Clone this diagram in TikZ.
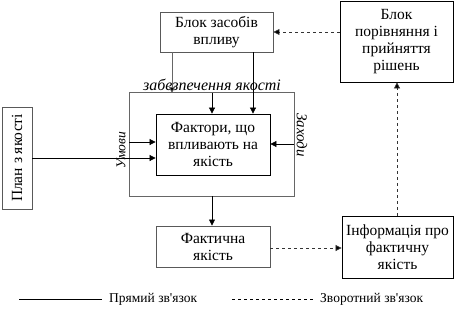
\documentclass[tikz,border=0pt]{standalone}
\usepackage{fontspec}
\setmainfont{Liberation Serif}
\newfontfamily\myserif{Liberation Serif}
\usetikzlibrary{arrows.meta}
\begin{document}
\begin{tikzpicture}[x=1pt,y=-1pt,font=\myserif,
  box/.style={draw=black!65,line width=0.9pt,align=center,inner sep=0pt,font=\myserif\fontsize{15.5}{17}\selectfont},
  bbox/.style={draw=black,line width=0.8pt,align=center,inner sep=0pt,font=\myserif\fontsize{15.5}{17}\selectfont},
  arr/.style={draw=black,line width=0.7pt,-{Triangle[length=6pt,width=6pt]}},
  garr/.style={draw=black!60,line width=0.8pt,-{Triangle[length=6pt,width=6pt,fill=black]}},
  darr/.style={draw=black!80,line width=0.7pt,dash pattern=on 3pt off 3pt,-{Triangle[length=6pt,width=6pt,fill=black]}},
  lbl/.style={font=\myserif\fontsize{16}{18}\selectfont\itshape,inner sep=0pt},
  lgd/.style={anchor=west,font=\myserif\fontsize{13.5}{15}\selectfont,inner sep=0pt}]
\useasboundingbox (0,0) rectangle (457,310);
% boxes
\node[box,minimum width=113pt,minimum height=40pt] (zasoby) at (216.5,32) {Блок засобів\\впливу};
\node[bbox,minimum width=113pt,minimum height=81pt] (porivn) at (396.5,41.5) {Блок\\порівняння і\\прийняття\\рішень};
\node[draw=black!60,line width=1pt,minimum width=165pt,minimum height=103pt,inner sep=0pt] (outer) at (211.5,144.5) {};
\node[bbox,minimum width=114pt,minimum height=61pt] (faktory) at (213,144.5) {Фактори, що\\впливають на\\якість};
\node[box,minimum width=30pt,minimum height=102pt] (plan) at (17,158) {};
\node[rotate=90,font=\myserif\fontsize{15.5}{17}\selectfont,inner sep=0pt] (plantxt) at (plan.center) {План з якості};
\node[box,minimum width=114pt,minimum height=41pt] (fakt) at (213,246.5) {Фактична\\якість};
\node[bbox,minimum width=111pt,minimum height=62pt] (info) at (397.5,247) {Інформація про\\фактичну\\якість};
% labels
\node[lbl] (zabezp) at (212,85) {забезпечення якості};
\node[lbl,rotate=90,font=\myserif\fontsize{13.5}{15}\selectfont\itshape] (umovy) at (121,150) {Умови};
\node[lbl,rotate=-90,font=\myserif\fontsize{15}{17}\selectfont\itshape] (zakhody) at (302,135) {Заходи};
% coordinates
\coordinate (z1) at (zasoby.south -| 172,0);
\coordinate (z1e) at (172,93);
\coordinate (z2) at (zasoby.south -| 253,0);
\coordinate (o1) at (212,93);
\coordinate (ol1) at (129,142);
\coordinate (or1) at (294,144);
\coordinate (ob) at (212,196);
% solid arrows
\draw[garr] (z1) -- (z1e);
\draw[arr] (z2) -- (faktory.north -| z2);
\draw[arr] (o1) -- (faktory.north -| o1);
\draw[arr] (ol1) -- (faktory.west |- ol1);
\draw[arr] (plan.east |- 0,158) -- (faktory.west |- 0,158);
\draw[arr] (or1) -- (faktory.east |- or1);
\draw[arr] (ob) -- (fakt.north -| ob);
% dashed arrows
\draw[darr] (fakt.east |- 0,248) -- (info.west |- 0,248);
\draw[darr] (info.north -| 397,0) -- (porivn.south -| 397,0);
\draw[darr] (porivn.west |- 0,32) -- (zasoby.east |- 0,32);
% legend
\coordinate (ls1) at (19,299);
\coordinate (ls2) at (102,299);
\draw[line width=0.6pt] (ls1) -- (ls2);
\node[lgd] (lt1) at (109,299) {Прямий зв'язок};
\coordinate (ld1) at (232,299);
\coordinate (ld2) at (315,299);
\draw[line width=0.6pt,dash pattern=on 3pt off 3pt] (ld1) -- (ld2);
\node[lgd] (lt2) at (320,299) {Зворотний зв'язок};
\end{tikzpicture}
\end{document}
